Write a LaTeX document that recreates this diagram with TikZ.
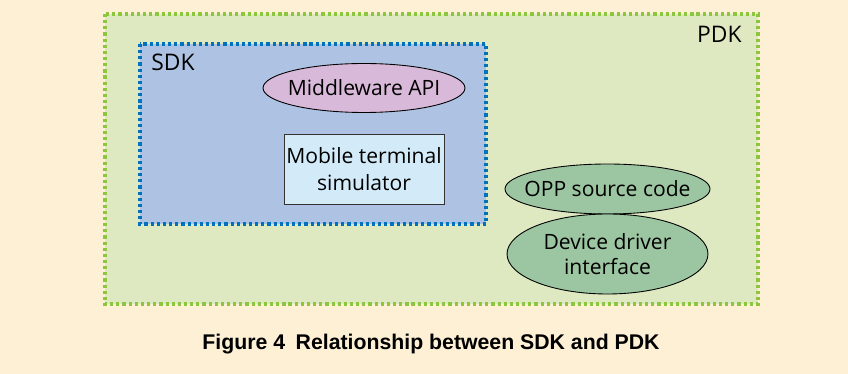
\documentclass[tikz,border=0pt]{standalone}
\usepackage{fontspec}
\setmainfont{Open Sans}
\newfontfamily\capfont{Liberation Sans}
\usetikzlibrary{shapes.geometric}

\definecolor{cream}{HTML}{FEF0D5}
\definecolor{pdkfill}{HTML}{DEE9C1}
\definecolor{pdkdots}{HTML}{8CC63F}
\definecolor{sdkfill}{HTML}{AEC3E4}
\definecolor{sdkdots}{HTML}{0072BC}
\definecolor{mwfill}{HTML}{D9B9D9}
\definecolor{simfill}{HTML}{D3EBF8}
\definecolor{oppfill}{HTML}{9CC5A1}

\begin{document}
\begin{tikzpicture}[x=0.02cm, y=-0.02cm,
  kitbox/.style={line width=2.1pt, dash pattern=on 1.8pt off 1.7pt},
  oval/.style={ellipse, draw=black, line width=0.5pt, fill=oppfill,
    inner xsep=-6pt, inner ysep=0pt, align=center, font=\fontsize{12}{14.5}\selectfont},
  lbl/.style={inner sep=0pt, font=\fontsize{13}{15}\selectfont}]
  \filldraw[fill=cream, draw=none] (0,0) rectangle (848,374);
  % PDK
  \filldraw[fill=pdkfill, draw=pdkdots, kitbox] (105,14) rectangle (758,304);
  \node[lbl, anchor=east] (pdk) at (742,34) {PDK};
  % SDK
  \filldraw[fill=sdkfill, draw=sdkdots, kitbox] (140,44) rectangle (486,224);
  \node[lbl, anchor=west] (sdk) at (151,62) {SDK};
  \node[oval, fill=mwfill, minimum width=4.04cm, minimum height=0.98cm] (mwapi) at (364,88) {Middleware API};
  \node[draw=black!80, line width=0.5pt, fill=simfill, align=center,
    minimum width=3.2cm, minimum height=1.4cm, inner sep=0pt,
    font=\fontsize{12}{15}\selectfont] (sim) at (364,169) {Mobile terminal\\simulator};
  % platform parts
  \node[oval, minimum width=4.02cm, minimum height=1.0cm] (opp) at (607.5,189) {OPP source code};
  \node[oval, minimum width=4.02cm, minimum height=1.6cm] (ddi) at (607.5,254) {Device driver\\interface};
  \node[font=\capfont\bfseries\fontsize{12.1}{14}\selectfont] (caption) at (431,344) {Figure 4\enspace Relationship between SDK and PDK};
\end{tikzpicture}
\end{document}
